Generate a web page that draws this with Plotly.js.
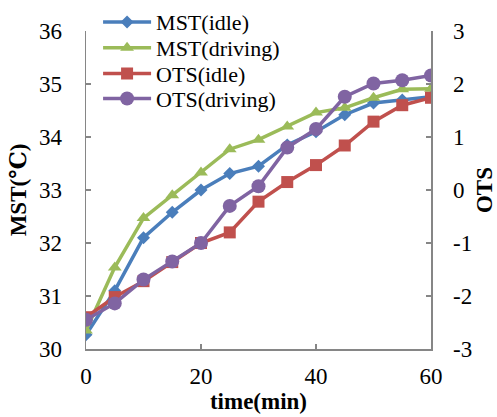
<!DOCTYPE html>
<html>
<head>
<meta charset="utf-8">
<script src="https://cdn.plot.ly/plotly-3.0.1.min.js"></script>
<style>html,body{margin:0;padding:0;background:#fff}#chart{width:497px;height:417px}</style>
</head>
<body>
<div id="chart"></div>
<script>
const time = [0, 5, 10, 15, 20, 25, 30, 35, 40, 45, 50, 55, 60];
const mstIdle = [30.27, 31.1, 32.1, 32.58, 33.0, 33.31, 33.45, 33.85, 34.1, 34.42, 34.64, 34.7, 34.76];
const mstDriving = [30.35, 31.54, 32.47, 32.9, 33.33, 33.77, 33.95, 34.2, 34.46, 34.55, 34.74, 34.9, 34.91];
const otsIdle = [-2.4, -2.02, -1.72, -1.36, -1.0, -0.8, -0.22, 0.15, 0.47, 0.84, 1.29, 1.6, 1.74];
const otsDriving = [-2.45, -2.14, -1.69, -1.35, -1.0, -0.3, 0.07, 0.8, 1.15, 1.76, 2.01, 2.07, 2.16];
const names = ["MST(idle)", "MST(driving)", "OTS(idle)", "OTS(driving)"];
const colors = ["#4A7EBB", "#9BBB59", "#C0504D", "#8064A2"];
const xTicks = [0, 20, 40, 60];
const yTicks = [30, 31, 32, 33, 34, 35, 36];
const y2Ticks = [-3, -2, -1, 0, 1, 2, 3];
const y2TickText = ["-3", "-2", "-1", "0", "1", "2", "3"];

const fam = "'Liberation Serif', 'Times New Roman', Times, 'DejaVu Serif', serif";
const f = (size) => ({family: fam, size: size, color: "#000"});
const legendIds = ["legend", "legend2", "legend3", "legend4"];
const legendY = [1.028, 0.947, 0.866, 0.787];
const symbols = ["diamond", "triangle-up", "square", "circle"];
const msizes = [10, 12, 12, 14];
const series = [mstIdle, mstDriving, otsIdle, otsDriving];
const traces = series.map((s, i) => ({
  x: time, y: s, name: names[i], mode: "lines+markers", yaxis: i < 2 ? "y" : "y2",
  legend: legendIds[i],
  line: {color: colors[i], width: 3.5},
  marker: {symbol: symbols[i], size: msizes[i], color: colors[i]}
}));
const axisCommon = {showgrid: false, zeroline: false, showline: true, linecolor: "#868686", linewidth: 1.5,
  ticks: "inside", ticklen: 5, tickcolor: "#868686", tickwidth: 1.5, tickfont: f(23)};
const layout = {
  width: 497, height: 417,
  margin: {l: 86, r: 66, t: 31, b: 68, autoexpand: false},
  paper_bgcolor: "#fff", plot_bgcolor: "#fff",
  font: f(20),
  showlegend: true,
  xaxis: Object.assign({}, axisCommon, {range: [0, 60], tickvals: xTicks, ticklabelstandoff: 6,
    title: {text: "<b>time(min)</b>", font: f(23), standoff: 2}}),
  yaxis: Object.assign({}, axisCommon, {range: [30, 36], tickvals: yTicks, ticklabelstandoff: 18,
    title: {text: "<b>MST(℃)</b>", font: f(23), standoff: 6}}),
  yaxis2: Object.assign({}, axisCommon, {range: [-3, 3], tickvals: y2Ticks, ticktext: y2TickText,
    overlaying: "y", side: "right", ticklabelstandoff: 16,
    title: {text: "<b>OTS</b>", font: f(23), standoff: 8}})
};
legendIds.forEach((id, i) => {
  layout[id] = {x: 0.035, y: legendY[i], xanchor: "left", yanchor: "middle", bgcolor: "rgba(0,0,0,0)",
    font: f(22), itemwidth: 48, borderwidth: 0};
});
Plotly.newPlot("chart", traces, layout, {displayModeBar: false, staticPlot: true});
</script>
</body>
</html>
